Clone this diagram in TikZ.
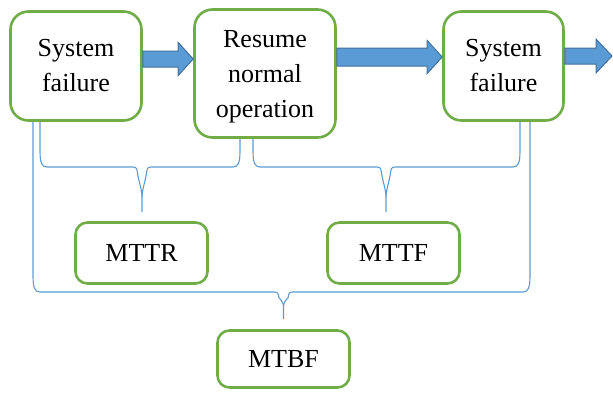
\documentclass[tikz,border=0pt]{standalone}
\usepackage{fontspec}
\setmainfont{Liberation Serif}
\usetikzlibrary{calc}
\definecolor{grn}{HTML}{70AD47}
\definecolor{blu}{HTML}{5B9BD5}
\definecolor{bluedge}{HTML}{41719C}
% #1 left end, #2 right end, #3 tip, #4 bar y, #5 tip curve depth
\newcommand\mybrace[5]{%
\draw[brace] (#1) -- ($(#1 |- 0,#4)+(0,-16)$) .. controls ($(#1 |- 0,#4)+(0,-4)$) and ($(#1 |- 0,#4)+(2,0)$) .. ($(#1 |- 0,#4)+(7,0)$)
 -- ($(#3 |- 0,#4)+(-9,0)$) .. controls ($(#3 |- 0,#4)+(-5.5,0)$) and ($(#3 |- 0,#4)+(-5,2)$) .. ($(#3 |- 0,#4)+(-4.5,6)$)
 .. controls ($(#3 |- 0,#4)+(-3.5,0.45*#5)$) and ($(#3 |- 0,#4)+(0,0.77*#5)$) .. ($(#3 |- 0,#4)+(0,#5)$) -- (#3);
\draw[brace] ($(#3 |- 0,#4)+(0,#5)$) .. controls ($(#3 |- 0,#4)+(0,0.77*#5)$) and ($(#3 |- 0,#4)+(3.5,0.45*#5)$) .. ($(#3 |- 0,#4)+(4.5,6)$)
 .. controls ($(#3 |- 0,#4)+(5,2)$) and ($(#3 |- 0,#4)+(5.5,0)$) .. ($(#3 |- 0,#4)+(9,0)$)
 -- ($(#2 |- 0,#4)+(-7,0)$) .. controls ($(#2 |- 0,#4)+(-2,0)$) and ($(#2 |- 0,#4)+(0,-4)$) .. ($(#2 |- 0,#4)+(0,-16)$) -- (#2);
}
% #1 start, #2 end, #3 shaft half width, #4 head length, #5 head half width
\newcommand\myarrow[5]{%
\draw[blockarrow] ($(#1)+(0,-#3)$) -- ($(#2)+(-#4,-#3)$) -- ($(#2)+(-#4,-#5)$) -- (#2)
 -- ($(#2)+(-#4,#5)$) -- ($(#2)+(-#4,#3)$) -- ($(#1)+(0,#3)$) -- cycle;
}
\begin{document}
\begin{tikzpicture}[x=1pt,y=-1pt,
 box/.style={draw=grn, line width=2.6pt, rounded corners=18pt, fill=white, align=center, inner sep=0pt, font=\fontsize{26}{35}\selectfont},
 small/.style={box, rounded corners=12pt},
 brace/.style={draw=blu, line width=1.1pt},
 blockarrow/.style={fill=blu, draw=bluedge, line width=1pt, line join=miter}]
\useasboundingbox (0,0) rectangle (613,392);
\node[box, minimum width=131pt, minimum height=109pt] (sf1) at (76,66) {System\\failure};
\node[box, minimum width=141pt, minimum height=128pt, text depth=0pt] (rn) at (265,73.5) {Resume\\normal\\operation};
\node[box, minimum width=120pt, minimum height=109pt] (sf2) at (503.5,66) {System\\failure};
\node[small, minimum width=132pt, minimum height=61pt] (mttr) at (141.5,253) {MTTR};
\node[small, minimum width=132pt, minimum height=61pt] (mttf) at (393.5,253) {MTTF};
\node[small, minimum width=132pt, minimum height=57pt] (mtbf) at (283.5,359) {MTBF};
% block arrows
\coordinate (a1s) at (sf1.east |- 0,59);
\coordinate (a1e) at (rn.west |- 0,59);
\coordinate (a2s) at (rn.east |- 0,57);
\coordinate (a2e) at (sf2.west |- 0,57);
\coordinate (a3s) at (sf2.east |- 0,56);
\coordinate (end3) at (612,56);
\myarrow{a1s}{a1e}{8}{15}{16.5}
\myarrow{a2s}{a2e}{9}{15}{16.5}
\myarrow{a3s}{end3}{8}{16}{17}
% braces
\coordinate (A1) at (40,0 |- sf1.south);
\coordinate (A2) at (240,0 |- rn.south);
\coordinate (At) at ($(mttr.north)+(0.5,-9)$);
\coordinate (B1) at (253,0 |- rn.south);
\coordinate (B2) at (520,0 |- sf2.south);
\coordinate (Bt) at ($(mttf.north)+(-7.5,-9)$);
\coordinate (C1) at (33,0 |- sf1.south);
\coordinate (C2) at (530,0 |- sf2.south);
\coordinate (Ct) at ($(mtbf.north)+(0,-10)$);
\mybrace{A1}{A2}{At}{167}{30}
\mybrace{B1}{B2}{Bt}{167}{30}
\mybrace{C1}{C2}{Ct}{292}{14}
\end{tikzpicture}
\end{document}
